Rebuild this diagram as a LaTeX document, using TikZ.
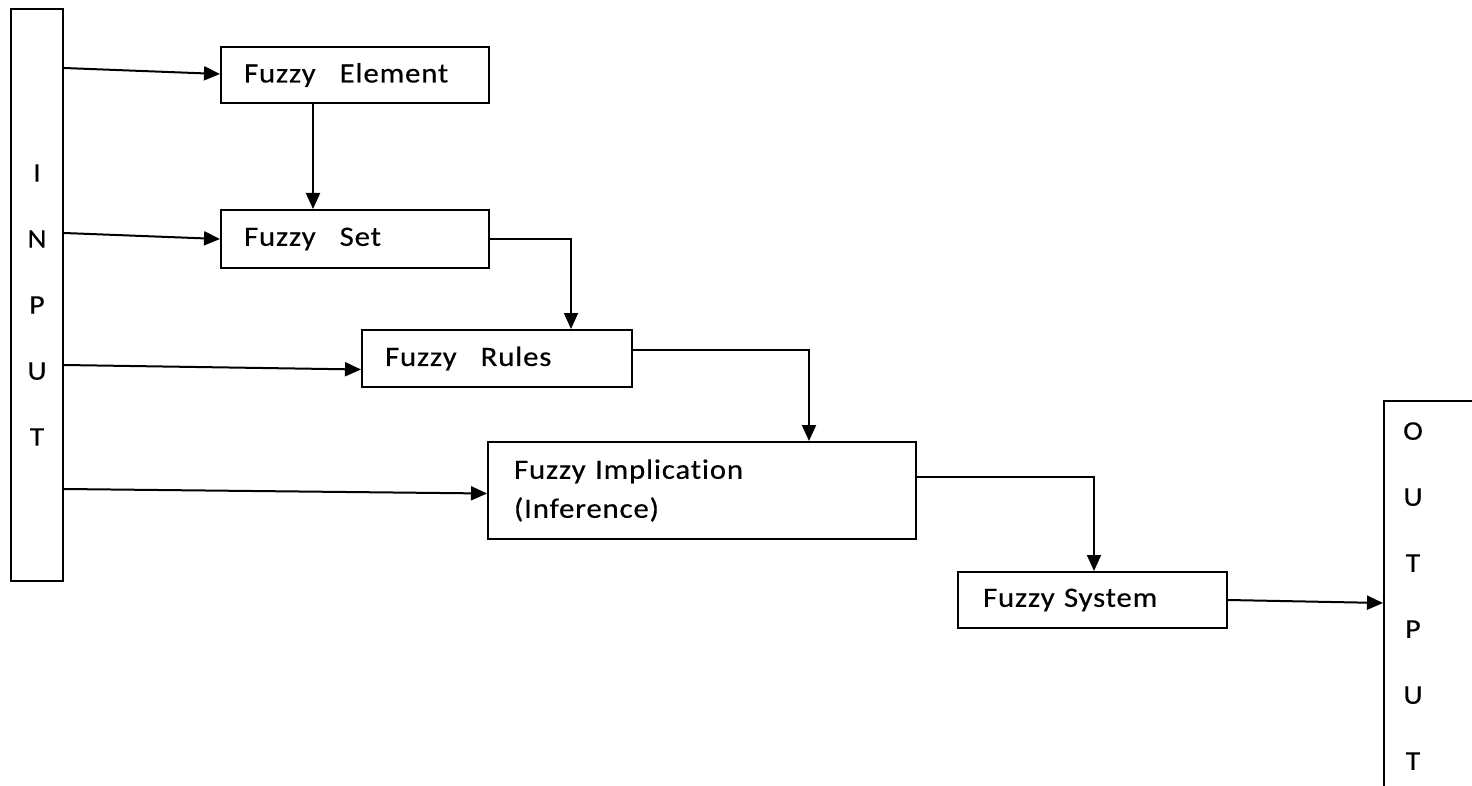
\documentclass[tikz,border=0pt]{standalone}
\usepackage{fontspec}
\setmainfont{Carlito}[FakeStretch=1.1,LetterSpace=3,Ligatures={NoCommon},FakeBold=0.4]
\usetikzlibrary{arrows.meta,calc}
\begin{document}
\begin{tikzpicture}[x=0.5pt,y=-0.5pt,
  box/.style={draw, line width=1pt, anchor=north west, inner ysep=0pt, align=left, font=\fontsize{14}{19.5}\selectfont},
  bar/.style={draw, line width=1pt, anchor=north west, inner sep=0pt},
  letters/.style={align=center, inner sep=0pt, font=\fontsize{13.5}{33}\selectfont},
  arr/.style={-{Triangle[length=8pt,width=7pt]}, line width=1pt}]
\useasboundingbox (0,0) rectangle (1472,786);
\clip (0,0) rectangle (1472,786);
% input / output bars
\node[bar, minimum width=26pt, minimum height=286pt] (inp) at (10,8) {};
\node[letters] (inl) at (37,305) {I\\N\\P\\U\\T};
\node[bar, minimum width=60pt, minimum height=220pt] (out) at (1383,400) {};
\node[letters] (outl) at (1413,596) {O\\U\\T\\P\\U\\T};
% blocks
\node[box, inner xsep=11.5pt, text width=111pt, minimum height=28pt] (elem) at (220,46) {Fuzzy\hspace{12pt}Element};
\node[box, inner xsep=11.5pt, text width=111pt, minimum height=29pt] (set) at (220,209) {Fuzzy\hspace{12pt}Set};
\node[box, inner xsep=11.5pt, text width=112pt, minimum height=28.5pt] (rules) at (361,329) {Fuzzy\hspace{12pt}Rules};
\node[box, inner xsep=13pt, text width=188pt, minimum height=48.5pt] (impl) at (487,441) {Fuzzy Implication\\(Inference)};
\node[box, inner xsep=12.5pt, text width=109.5pt, minimum height=28pt] (sys) at (957,571) {Fuzzy System};
% connectors from input
\draw[arr] ($(inp.north east)+(0,60)$) -- ($(elem.west)+(0,-1)$);
\draw[arr] ($(inp.north east)+(0,225)$) -- (set.west);
\draw[arr] ($(inp.north east)+(0,357)$) -- ($(rules.west)+(0,11)$);
\draw[arr] ($(inp.north east)+(0,481)$) -- ($(impl.west)+(0,3)$);
% chain
\draw[arr] ($(elem.south)+(-42,0)$) -- ($(set.north)+(-42,0)$);
\draw[arr] (set.east) -| ($(rules.north)+(74,0)$);
\draw[arr] ($(rules.east)+(0,-8.5)$) -| ($(impl.north)+(107,0)$);
\draw[arr] ($(impl.east)+(0,-13.5)$) -| ($(sys.north)+(1.5,0)$);
\draw[arr] (sys.east) -- ($(out.north west)+(0,203)$);
\end{tikzpicture}
\end{document}
